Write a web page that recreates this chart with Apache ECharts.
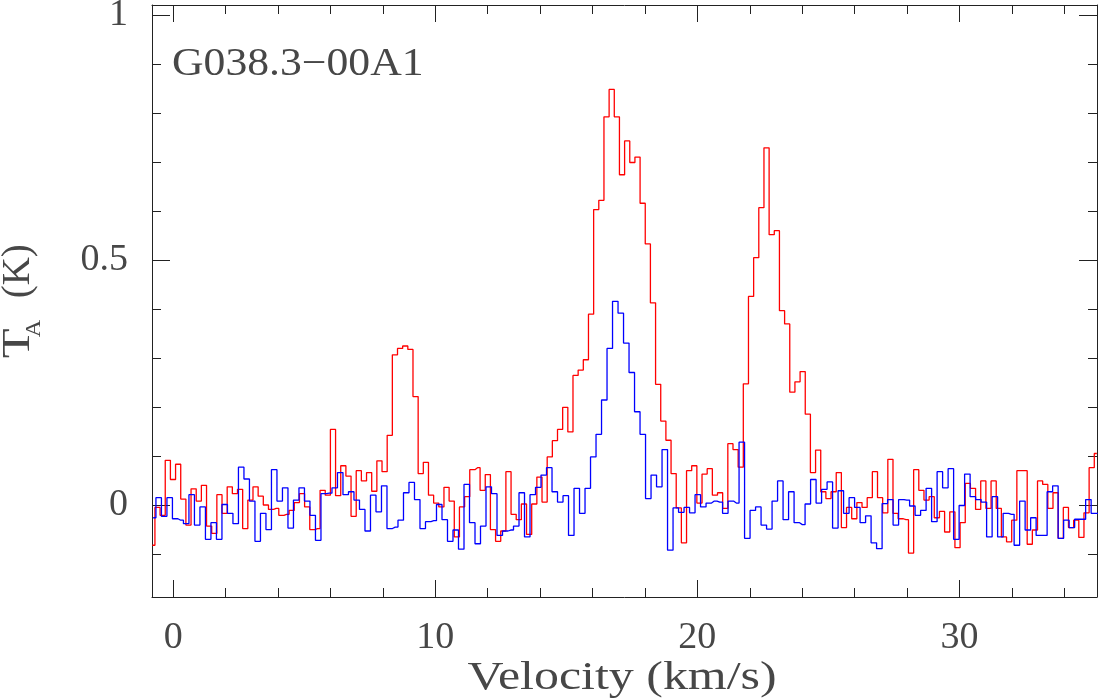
<!DOCTYPE html>
<html>
<head>
<meta charset="utf-8">
<script src="https://cdn.jsdelivr.net/npm/echarts@6/dist/echarts.min.js"></script>
<style>
html,body{margin:0;padding:0;background:#fff;}
#chart{width:1098px;height:700px;}
</style>
</head>
<body>
<div id="chart"></div>
<script>
// ---- data ----
// channel grid of each spectrum (km/s): centre of first channel and channel width
const redV0 = -0.797, redDv = 0.19695;
const blueV0 = -0.765, blueDv = 0.20992;

// red spectrum, antenna temperature (K) per channel
const redT = [
 -0.081,-0.004,-0.020,0.092,0.053,0.084,0.013,-0.040,0.034,0.009,
 0.041,-0.042,-0.057,0.022,-0.016,0.038,0.024,0.033,-0.047,0.011,
 0.038,0.019,0.001,-0.008,-0.006,-0.020,-0.018,-0.010,0.006,0.024,
 -0.003,-0.049,-0.047,0.031,0.021,0.155,0.020,0.081,0.060,-0.022,
 0.071,0.050,0.067,0.029,0.091,0.069,0.143,0.307,0.320,0.325,
 0.318,0.222,0.065,0.088,0.021,0.005,-0.003,0.037,0.009,-0.064,
 -0.003,0.018,0.073,0.077,0.031,0.063,-0.049,-0.073,-0.052,0.069,
 -0.018,-0.029,0.003,-0.059,0.003,0.058,0.007,0.099,0.132,0.155,
 0.200,0.150,0.265,0.276,0.297,0.390,0.603,0.622,0.792,0.848,
 0.792,0.674,0.743,0.699,0.710,0.616,0.533,0.413,0.247,0.172,
 0.133,0.065,-0.005,-0.076,0.071,0.081,0.005,0.064,0.075,0.021,
 0.026,-0.006,0.126,0.114,0.078,0.248,0.426,0.505,0.607,0.729,
 0.552,0.560,0.397,0.370,0.231,0.252,0.273,0.186,0.067,0.113,
 0.028,0.014,0.028,0.067,-0.045,-0.004,-0.027,0.006,-0.004,0.016,
 0.069,0.016,-0.015,0.094,-0.016,-0.027,-0.029,-0.097,0.073,0.031,
 0.011,0.018,-0.025,-0.012,-0.054,-0.013,-0.086,-0.035,0.045,0.035,
 -0.008,0.050,-0.006,0.050,-0.006,-0.064,-0.074,-0.030,0.071,0.071,
 -0.079,-0.050,0.050,0.043,-0.006,0.026,-0.067,-0.004,-0.045,-0.030,
 -0.065,-0.015,0.077,0.106
];

// blue spectrum, antenna temperature (K) per channel
const blueT = [
 -0.025,0.016,-0.022,0.016,-0.027,-0.030,-0.037,0.022,-0.040,-0.003,
 -0.069,-0.035,-0.069,0.002,-0.016,-0.037,0.078,0.054,0.009,-0.073,
 -0.016,-0.049,0.073,0.009,0.036,-0.046,0.011,0.036,0.009,-0.020,
 -0.071,0.024,0.025,0.036,0.067,0.022,0.028,0.011,-0.008,-0.052,
 0.021,-0.013,0.040,-0.047,-0.044,-0.030,0.026,0.047,0.012,-0.047,
 -0.033,-0.031,0.002,-0.029,-0.073,-0.050,-0.089,0.043,-0.035,-0.078,
 -0.042,0.038,0.024,-0.061,-0.052,-0.050,-0.042,0.026,-0.064,0.022,
 0.037,0.062,0.077,0.028,0.007,0.020,-0.061,0.035,-0.016,0.035,
 0.099,0.145,0.215,0.320,0.416,0.392,0.331,0.271,0.191,0.145,
 0.014,0.062,0.038,0.114,-0.091,-0.005,-0.014,-0.004,-0.015,0.022,
 -0.003,0.005,0.009,0.007,-0.016,0.009,0.005,0.129,-0.067,-0.010,
 -0.003,-0.040,-0.048,0.009,0.050,-0.029,0.028,-0.035,-0.039,0.003,
 0.053,0.005,0.033,0.048,-0.046,0.030,-0.016,0.016,-0.004,-0.035,
 -0.021,-0.076,-0.088,0.004,0.012,-0.040,0.012,0.011,-0.001,-0.020,
 -0.010,0.035,-0.033,0.069,0.036,0.075,-0.069,0.000,0.064,0.018,
 0.012,0.007,-0.064,0.018,-0.064,-0.016,-0.018,-0.081,0.009,-0.050,
 -0.025,-0.061,-0.061,0.028,0.040,-0.067,-0.030,-0.045,-0.028,-0.028,
 0.012,-0.016,-0.016
];

// axis ranges and ticks
const xRange = [-0.81, 35.25];
const yRange = [-0.1865, 1.02];
const xMajor = [0, 10, 20, 30];
const xMinor = [2, 4, 6, 8, 12, 14, 16, 18, 22, 24, 26, 28, 32, 34];
const yMajor = [0, 0.5, 1];
const yMinor = [-0.1, 0.1, 0.2, 0.3, 0.4, 0.6, 0.7, 0.8, 0.9];

const sourceName = 'G038.3\u221200A1';
const xTitle = 'Velocity (km/s)';

// ---- build ----
const redData = redT.map((t, i) => [redV0 + i * redDv, t]);
const blueData = blueT.map((t, i) => [blueV0 + i * blueDv, t]);

const FONT = '"Liberation Serif", "DejaVu Serif", serif';
const INK = '#222';
const TXT = '#474747';

function xAx(pos, vals, len, withLabel, withLine) {
  return {
    type: 'value', position: pos, min: xRange[0], max: xRange[1],
    axisLine: { show: withLine, onZero: false, lineStyle: { color: INK, width: 1 } },
    axisTick: { show: true, inside: true, length: len, customValues: vals, lineStyle: { color: INK, width: 1 } },
    axisLabel: withLabel ? { show: true, customValues: vals, margin: 22, fontSize: 38, fontFamily: FONT, color: TXT } : { show: false },
    splitLine: { show: false }
  };
}
function yAx(pos, vals, len, withLabel, withLine) {
  return {
    type: 'value', position: pos, min: yRange[0], max: yRange[1],
    axisLine: { show: withLine, onZero: false, lineStyle: { color: INK, width: 1 } },
    axisTick: { show: true, inside: true, length: len, customValues: vals, lineStyle: { color: INK, width: 1 } },
    axisLabel: withLabel ? { show: true, customValues: vals, margin: 24, fontSize: 38, fontFamily: FONT, color: TXT, formatter: v => String(v) } : { show: false },
    splitLine: { show: false }
  };
}

const chart = echarts.init(document.getElementById('chart'), null, { renderer: 'canvas' });
chart.setOption({
  animation: false,
  backgroundColor: '#fff',
  grid: { left: 152, right: 1, top: 5, bottom: 103, containLabel: false, outerBoundsMode: 'none' },
  xAxis: [
    xAx('bottom', xMajor, 17, true, true),
    xAx('bottom', xMinor, 9, false, false),
    xAx('top', xMajor, 17, false, true),
    xAx('top', xMinor, 9, false, false)
  ],
  yAxis: [
    yAx('left', yMajor, 18, true, true),
    yAx('left', yMinor, 9, false, false),
    yAx('right', yMajor, 18, false, true),
    yAx('right', yMinor, 9, false, false)
  ],
  series: [
    { type: 'line', xAxisIndex: 0, yAxisIndex: 0, data: redData, step: 'middle', showSymbol: false,
      lineStyle: { color: '#ff0000', width: 1.3 }, clip: true, z: 3 },
    { type: 'line', xAxisIndex: 0, yAxisIndex: 0, data: blueData, step: 'middle', showSymbol: false,
      lineStyle: { color: '#0000ff', width: 1.3 }, clip: true, z: 4 }
  ],
  graphic: [
    { type: 'text', x: 172, y: 64.5, scaleX: 1.12,
      style: { text: sourceName, font: '39px ' + FONT, fill: TXT, align: 'left', verticalAlign: 'middle' } },
    { type: 'text', x: 622, y: 679, scaleX: 1.28,
      style: { text: xTitle, font: '39px ' + FONT, fill: TXT, align: 'center', verticalAlign: 'middle' } },
    { type: 'group', x: 31.7, y: 358.3, rotation: Math.PI / 2,
      children: [
        { type: 'text', x: 0, y: -13, scaleX: 1.25,
          style: { text: 'T', font: '39px ' + FONT, fill: TXT, align: 'left', verticalAlign: 'middle' } },
        { type: 'text', x: 21, y: 3, scaleX: 1.2,
          style: { text: 'A', font: '20px ' + FONT, fill: TXT, align: 'left', verticalAlign: 'middle' } },
        { type: 'text', x: 60, y: -13,
          style: { text: '(K)', font: '39px ' + FONT, fill: TXT, align: 'left', verticalAlign: 'middle' } }
      ] }
  ]
});
</script>
</body>
</html>
